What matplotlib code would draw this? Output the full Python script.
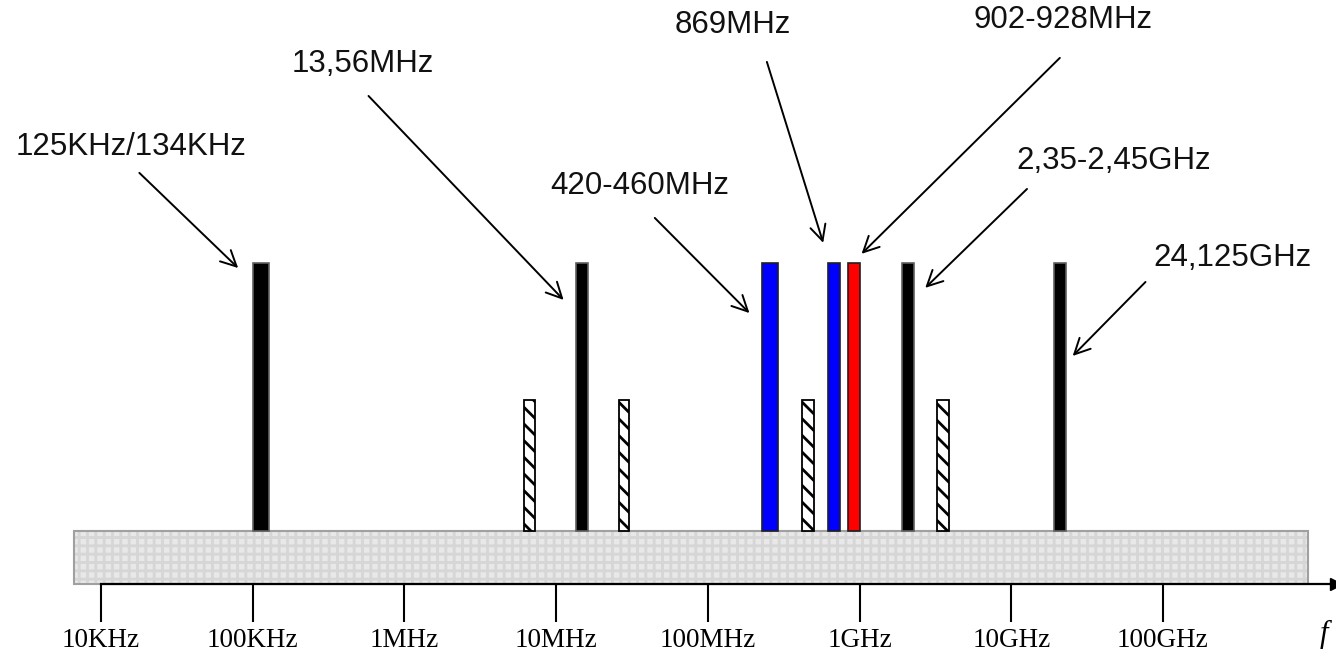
import matplotlib
matplotlib.use('Agg')
import matplotlib.pyplot as plt

# ---- datos ----
# bandas: (f_inicio Hz, f_fin Hz, altura relativa, tipo)
bar_lo = [100e3, 6.16e6, 13.5e6, 25.8e6, 227e6, 420e6, 623e6, 841e6, 1.905e9, 3.26e9, 19.1e9]
bar_hi = [129e3, 7.27e6, 16.1e6, 30.3e6, 288e6, 500e6, 741e6, 1.0e9, 2.29e9, 3.86e9, 22.9e9]
bar_h = [1.0, 0.49, 1.0, 0.49, 1.0, 0.49, 1.0, 1.0, 1.0, 0.49, 1.0]
bar_kind = ['black', 'hatch', 'black', 'hatch', 'blue', 'hatch', 'blue', 'red', 'black', 'hatch', 'black']

tick_f = [1e4, 1e5, 1e6, 1e7, 1e8, 1e9, 1e10, 1e11]
tick_lbl = ['10KHz', '100KHz', '1MHz', '10MHz', '100MHz', '1GHz', '10GHz', '100GHz']

# etiquetas con flecha: texto, posición texto, cola de la flecha, punta de la flecha
ann_text = ['125KHz/134KHz', '13,56MHz', '420-460MHz', '869MHz', '902-928MHz', '2,35-2,45GHz', '24,125GHz']
ann_text_xy = [(15.8e3, 1.433), (529e3, 1.743), (35.5e6, 1.287), (146e6, 1.888),
               (21.9e9, 1.907), (47.1e9, 1.381), (289e9, 1.019)]
ann_tail = [(17.9e3, 1.336), (580e3, 1.623), (44.7e6, 1.168), (245e6, 1.750),
            (20.9e9, 1.765), (12.7e9, 1.276), (76.7e9, 0.929)]
ann_head = [(80.2e3, 0.981), (11.2e6, 0.862), (188e6, 0.813), (576e6, 1.075),
            (1.031e9, 1.034), (2.71e9, 0.907), (25.4e9, 0.653)]

band_lo, band_hi, band_depth = 6.64e3, 9.1e11, 0.198

colors = {'black': 'black', 'blue': '#0000ff', 'red': '#ff0000', 'hatch': 'white'}

# el grosor del rayado se lee al dibujar, así que es uno solo para todo
plt.rcParams['hatch.linewidth'] = 2.0

fig = plt.figure(figsize=(13.36, 6.54), dpi=100)
ax = fig.add_axes([0, 0, 1, 1])
ax.set_xscale('log')
ax.set_xlim(10 ** 3.3343, 10 ** 12.1405)
ax.set_ylim(-0.459, 1.981)

# banda gris cuadriculada
ax.bar([band_lo], [band_depth], width=[band_hi - band_lo], bottom=-band_depth, align='edge',
       facecolor='#e8e8e8', edgecolor='#d6d6d6', hatch='++', linewidth=0, zorder=1)
ax.bar([band_lo], [band_depth], width=[band_hi - band_lo], bottom=-band_depth, align='edge',
       facecolor='none', edgecolor='#a0a0a0', linewidth=1.5, zorder=1.5)

# barras
for lo, hi, h, k in zip(bar_lo, bar_hi, bar_h, bar_kind):
    if k == 'hatch':
        ax.bar([lo], [h], width=[hi - lo], align='edge', facecolor='white',
               edgecolor='black', hatch='\\\\', linewidth=1.3, zorder=2)
    else:
        ec = '#606060' if k == 'black' else '#202020'
        ax.bar([lo], [h], width=[hi - lo], align='edge', facecolor=colors[k],
               edgecolor=ec, linewidth=1.2, zorder=2)

# textos y flechas
for t, txy, tail, head in zip(ann_text, ann_text_xy, ann_tail, ann_head):
    ax.text(txy[0], txy[1], t, fontsize=22.5, family='Liberation Sans',
            ha='center', va='center', color='#111111')
    ax.annotate('', xy=head, xytext=tail,
                arrowprops=dict(arrowstyle='->', color='black', lw=1.4,
                                mutation_scale=28, shrinkA=0, shrinkB=0))

# eje de frecuencias
for s in ['top', 'right', 'left']:
    ax.spines[s].set_visible(False)
ax.spines['bottom'].set_position(('data', -band_depth))
ax.spines['bottom'].set_bounds(tick_f[0], ax.get_xlim()[1])
ax.spines['bottom'].set_linewidth(1.6)
ax.spines['bottom'].set_zorder(3)
ax.plot([1], [-band_depth], marker='>', color='black', markersize=9,
        transform=ax.get_yaxis_transform(), clip_on=False, zorder=4)
ax.set_xticks(tick_f)
ax.set_xticklabels(tick_lbl, fontsize=19.5, family='Liberation Serif')
ax.minorticks_off()
ax.tick_params(axis='x', direction='out', length=27, width=1.5, pad=5)
ax.set_yticks([])
ax.patch.set_visible(False)

ax.text(0.991, 0.03, 'f', transform=ax.transAxes, fontsize=22, family='Liberation Serif',
        style='italic', ha='center', va='center')

fig.savefig('out.png', dpi=100)
